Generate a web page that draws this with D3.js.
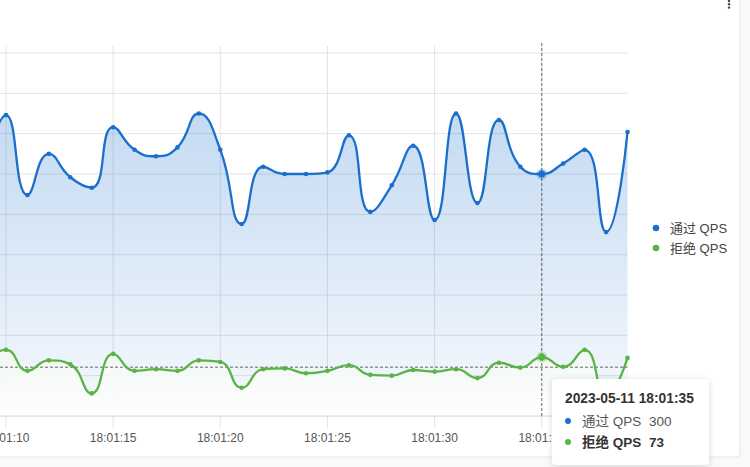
<!DOCTYPE html>
<html><head><meta charset="utf-8">
<script src="https://cdn.jsdelivr.net/npm/d3@7"></script>
<style>
html,body{margin:0;padding:0;background:#f8f9fa;}
svg{display:block;font-family:"Helvetica Neue",Helvetica,Arial,"Noto Sans CJK SC",sans-serif;}
</style>
</head><body>
<svg id="c" width="750" height="467"></svg>
<script>
// ---- data ----
const times = ["18:01:09","18:01:10","18:01:11","18:01:12","18:01:13","18:01:14","18:01:15","18:01:16","18:01:17","18:01:18","18:01:19","18:01:20","18:01:21","18:01:22","18:01:23","18:01:24","18:01:25","18:01:26","18:01:27","18:01:28","18:01:29","18:01:30","18:01:31","18:01:32","18:01:33","18:01:34","18:01:35","18:01:36","18:01:37","18:01:38","18:01:39"];
const passQps  = [300,373,274,325,296,283,358,330,322,333,375,330,238,309,300,300,302,348,253,286,335,243,375,264,367,309,300,313,330,228,352];
const blockQps = [70,82,56,69,64,28,77,56,58,56,69,67,35,58,59,53,56,63,51,50,57,55,58,47,66,60,73,61,82,25,72];
const seriesNames = ["通过 QPS","拒绝 QPS"];
const xTickLabels = ["18:01:10","18:01:15","18:01:20","18:01:25","18:01:30","18:01:35"];
const yTicks = [0,50,100,150,200,250,300,350,400,450];
const hoverTime = "18:01:35";
const hoverDate = "2023-05-11";
const pointerValue = 60.5;

const colors = ["#1a6fcc","#5ab445"];

const svg = d3.select("#c");
const parse = d3.timeParse("%H:%M:%S");
const dates = times.map(parse);

const x = d3.scaleTime().domain([parse("18:01:10"), parse("18:01:39")]).range([6, 627.5]);
const y = d3.scaleLinear().domain([0,450]).range([416, 53]);
const plotLeft = -40, plotRight = 627.5;

// card
svg.append("rect").attr("x",-20).attr("y",-20).attr("width",760).attr("height",477)
  .attr("rx",4).attr("fill","#fff").attr("stroke","#e4e6ea");
[1,4.3,7.6].forEach(cy=>svg.append("circle").attr("cx",729).attr("cy",cy).attr("r",1.2).attr("fill","#444"));

const defs = svg.append("defs");
const g1 = defs.append("linearGradient").attr("id","gBlue").attr("gradientUnits","userSpaceOnUse")
  .attr("x1",0).attr("x2",0).attr("y1",y(450)).attr("y2",y(0));
g1.append("stop").attr("offset",0).attr("stop-color",colors[0]).attr("stop-opacity",0.3);
g1.append("stop").attr("offset",1).attr("stop-color",colors[0]).attr("stop-opacity",0.04);
const g2 = defs.append("linearGradient").attr("id","gGreen").attr("gradientUnits","userSpaceOnUse")
  .attr("x1",0).attr("x2",0).attr("y1",y(90)).attr("y2",y(0));
g2.append("stop").attr("offset",0).attr("stop-color","#f1f7f1").attr("stop-opacity",0.85);
g2.append("stop").attr("offset",1).attr("stop-color","#ffffff").attr("stop-opacity",0.92);
const sh = defs.append("filter").attr("id","shadow").attr("x","-20%").attr("y","-20%").attr("width","140%").attr("height","150%");
sh.append("feDropShadow").attr("dx",0).attr("dy",1).attr("stdDeviation",3).attr("flood-color","#000").attr("flood-opacity",0.15);

// grid
const grid = svg.append("g");
grid.selectAll("line.h").data(yTicks).join("line")
  .attr("x1",plotLeft).attr("x2",plotRight).attr("y1",d=>y(d)).attr("y2",d=>y(d))
  .attr("stroke","#e3e3e3").attr("stroke-width",1);
grid.selectAll("line.v").data(xTickLabels).join("line")
  .attr("x1",d=>x(parse(d))).attr("x2",d=>x(parse(d))).attr("y1",46).attr("y2",428)
  .attr("stroke","#e3e3e3").attr("stroke-width",1);

// ECharts-like smooth path
function smoothPath(pts, smooth, ctx){
  let prevX, prevY, cpx0, cpy0;
  for (let i=0;i<pts.length;i++){
    const [px,py] = pts[i];
    if (i===0){ ctx.moveTo(px,py); cpx0=px; cpy0=py; }
    else {
      let cpx1, cpy1, nextCpx0, nextCpy0;
      if (i===pts.length-1){ cpx1=px; cpy1=py; nextCpx0=px; nextCpy0=py; }
      else {
        const [nx,ny] = pts[i+1];
        let vx = nx-prevX, vy = ny-prevY;
        const lenPrev = Math.hypot(px-prevX, py-prevY);
        const lenNext = Math.hypot(nx-px, ny-py);
        const r = lenNext/(lenNext+lenPrev);
        nextCpx0 = px + vx*smooth*r; nextCpy0 = py + vy*smooth*r;
        nextCpx0 = Math.max(Math.min(nextCpx0, Math.max(nx,px)), Math.min(nx,px));
        nextCpy0 = Math.max(Math.min(nextCpy0, Math.max(ny,py)), Math.min(ny,py));
        vx = nextCpx0-px; vy = nextCpy0-py;
        cpx1 = px - vx*lenPrev/lenNext; cpy1 = py - vy*lenPrev/lenNext;
        cpx1 = Math.max(Math.min(cpx1, Math.max(prevX,px)), Math.min(prevX,px));
        cpy1 = Math.max(Math.min(cpy1, Math.max(prevY,py)), Math.min(prevY,py));
        vx = px-cpx1; vy = py-cpy1;
        nextCpx0 = px + vx*lenNext/lenPrev; nextCpy0 = py + vy*lenNext/lenPrev;
      }
      ctx.bezierCurveTo(cpx0,cpy0,cpx1,cpy1,px,py);
      cpx0=nextCpx0; cpy0=nextCpy0;
    }
    prevX=px; prevY=py;
  }
  return ctx;
}

const series = [passQps, blockQps];
const ptsList = series.map(vals => vals.map((v,i)=>[x(dates[i]), y(v)]));

// areas
ptsList.forEach((pts,si)=>{
  const p = smoothPath(pts, 0.5, d3.path());
  p.lineTo(pts[pts.length-1][0], y(0)); p.lineTo(pts[0][0], y(0)); p.closePath();
  svg.append("path").attr("d",p.toString()).attr("fill", si===0?"url(#gBlue)":"url(#gGreen)");
});

// axis baseline
svg.append("line").attr("x1",plotLeft).attr("x2",plotRight).attr("y1",y(0)).attr("y2",y(0)).attr("stroke","#dcdcdc");

// x labels
svg.append("g").selectAll("text").data(xTickLabels).join("text")
  .attr("x",d=>x(parse(d))).attr("y",442).attr("text-anchor","middle")
  .attr("font-size",12).attr("fill","#555").text(d=>d);

// crosshair
const hx = x(parse(hoverTime));
svg.append("line").attr("x1",hx).attr("x2",hx).attr("y1",43).attr("y2",y(0))
  .attr("stroke","#666").attr("stroke-dasharray","3,2").attr("stroke-width",1);
svg.append("line").attr("x1",plotLeft).attr("x2",plotRight).attr("y1",y(pointerValue)).attr("y2",y(pointerValue))
  .attr("stroke","#666").attr("stroke-dasharray","3,2").attr("stroke-width",1);

// lines + symbols
ptsList.forEach((pts,si)=>{
  svg.append("path").attr("d",smoothPath(pts,0.5,d3.path()).toString())
    .attr("fill","none").attr("stroke",colors[si]).attr("stroke-width",2.3).attr("stroke-linejoin","round");
  svg.append("g").selectAll("circle").data(pts).join("circle")
    .attr("cx",d=>d[0]).attr("cy",d=>d[1]).attr("r",2.3).attr("fill",colors[si]);
  const hi = times.indexOf(hoverTime);
  svg.append("circle").attr("cx",pts[hi][0]).attr("cy",pts[hi][1]).attr("r",5.5).attr("fill",colors[si]).attr("opacity",0.3);
  svg.append("circle").attr("cx",pts[hi][0]).attr("cy",pts[hi][1]).attr("r",3.5).attr("fill",colors[si]);
});

// legend
const lg = svg.append("g");
seriesNames.forEach((n,i)=>{
  lg.append("circle").attr("cx",656).attr("cy",228+i*20).attr("r",3.3).attr("fill",colors[i]);
  lg.append("text").attr("x",670).attr("y",232.5+i*20).attr("font-size",13).attr("fill","#444").text(n);
});

// tooltip
const hi = times.indexOf(hoverTime);
const tt = svg.append("g");
tt.append("rect").attr("x",552).attr("y",379).attr("width",157).attr("height",86).attr("rx",4)
  .attr("fill","#fff").attr("filter","url(#shadow)");
tt.append("text").attr("x",565).attr("y",403).attr("font-size",13.8).attr("font-weight","bold").attr("fill","#333")
  .text(hoverDate+" "+hoverTime);
series.forEach((vals,i)=>{
  const cy = 421 + i*21;
  tt.append("circle").attr("cx",568).attr("cy",cy).attr("r",3).attr("fill",colors[i]);
  tt.append("text").attr("x",582).attr("y",cy+4.5).attr("font-size",13.5)
    .attr("font-weight", i===1?"bold":"normal").attr("fill", i===1?"#333":"#555").text(seriesNames[i]);
  tt.append("text").attr("x",649).attr("y",cy+4.5).attr("font-size",13.5)
    .attr("font-weight", i===1?"bold":"normal").attr("fill", i===1?"#333":"#555").text(vals[hi]);
});
</script>
</body></html>
